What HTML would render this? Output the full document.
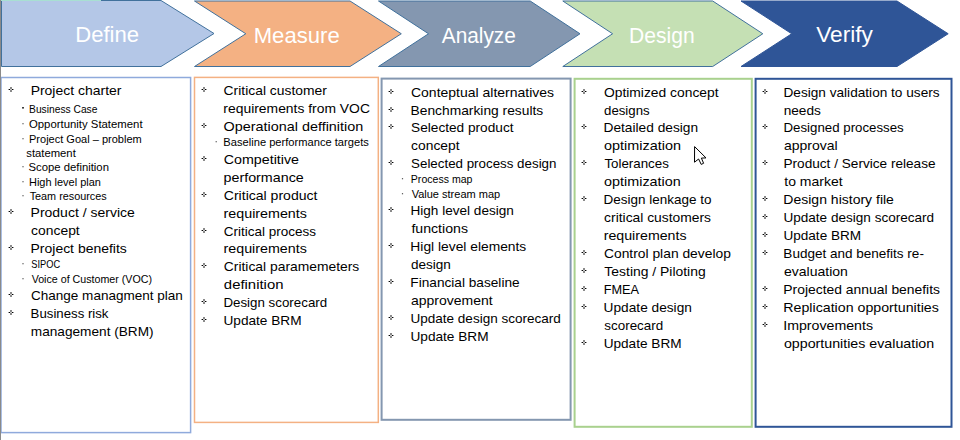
<!DOCTYPE html><html><head><meta charset="utf-8"><style>html,body{margin:0;padding:0;background:#fff;overflow:hidden}svg{display:block}text{font-family:"Liberation Sans",sans-serif}</style></head><body>
<svg width="960" height="440" viewBox="0 0 960 440">
<rect x="0" y="0" width="960" height="440" fill="#fff"/>
<path d="M1.5 0.5 L161 0.5 L214 33.5 L161 66.5 L1.5 66.5Z" fill="#B4C7E7" stroke="#41719C" stroke-width="1"/>
<path d="M194.5 1.0 L350 1.0 L401.3 33.75 L350 66.5 L194.5 66.5 L245.8 33.75Z" fill="#F4B183" stroke="#41719C" stroke-width="1"/>
<path d="M378.5 1.0 L530.2 1.0 L580 33.75 L530.2 66.5 L378.5 66.5 L428.5 33.75Z" fill="#8497B0" stroke="#41719C" stroke-width="1"/>
<path d="M562.8 1.0 L712.7 1.0 L762.8 33.75 L712.7 66.5 L562.8 66.5 L612.6 33.75Z" fill="#C5E0B4" stroke="#41719C" stroke-width="1"/>
<path d="M741 1.0 L897 1.0 L948.2 33.75 L897 66.5 L741 66.5 L791.7 33.75Z" fill="#2F5597" stroke="#2F5597" stroke-width="1"/>
<rect x="0" y="0" width="101" height="1" fill="#A8DFD2"/>
<text x="75.19" y="42" font-size="21.2" fill="#fff" textLength="63.90" lengthAdjust="spacingAndGlyphs">Define</text>
<text x="253.69" y="43" font-size="21.2" fill="#fff" textLength="86.00" lengthAdjust="spacingAndGlyphs">Measure</text>
<text x="441.76" y="43" font-size="21.2" fill="#fff" textLength="74.07" lengthAdjust="spacingAndGlyphs">Analyze</text>
<text x="629.07" y="43" font-size="21.2" fill="#fff" textLength="65.60" lengthAdjust="spacingAndGlyphs">Design</text>
<text x="816.20" y="42" font-size="21.2" fill="#fff" textLength="56.74" lengthAdjust="spacingAndGlyphs">Verify</text>
<rect x="1.0" y="77.5" width="189.6" height="355.1" fill="none" stroke="#8FAADC" stroke-width="1.5"/>
<rect x="194.5" y="77.4" width="183.8" height="345.0" fill="none" stroke="#F4B183" stroke-width="1.5"/>
<rect x="381.6" y="78.6" width="189.0" height="341.2" fill="none" stroke="#8497B0" stroke-width="2.0"/>
<rect x="574.6" y="78.8" width="177.2" height="348.0" fill="none" stroke="#A9D18E" stroke-width="2.0"/>
<rect x="755.6" y="78.8" width="195.9" height="348.0" fill="none" stroke="#2F5597" stroke-width="2.0"/>
<text x="30.65" y="95" font-size="12.2" fill="#000" textLength="90.78" lengthAdjust="spacingAndGlyphs">Project charter</text>
<rect x="8" y="89" width="1" height="1" fill="#9a9a9a"/><rect x="9" y="89" width="1" height="1" fill="#000"/><rect x="10" y="89" width="2" height="1" fill="#c8c8c8"/><rect x="12" y="89" width="1" height="1" fill="#000"/><rect x="13" y="89" width="1" height="1" fill="#9a9a9a"/><rect x="10" y="87" width="2" height="2" fill="#8a8a8a"/><rect x="10" y="90" width="2" height="2" fill="#8a8a8a"/>
<text x="29.06" y="113" font-size="10.4" fill="#000" textLength="68.40" lengthAdjust="spacingAndGlyphs">Business Case</text>
<rect x="22.20" y="107.00" width="1.6" height="1.6" fill="#111"/>
<text x="28.96" y="128" font-size="10.4" fill="#000" textLength="113.62" lengthAdjust="spacingAndGlyphs">Opportunity Statement</text>
<rect x="22.40" y="123.10" width="1.2" height="1.2" fill="#555"/>
<text x="29.00" y="143" font-size="10.4" fill="#000" textLength="112.73" lengthAdjust="spacingAndGlyphs">Project Goal – problem</text>
<rect x="22.40" y="138.10" width="1.2" height="1.2" fill="#555"/>
<text x="26.29" y="157" font-size="10.4" fill="#000" textLength="49.50" lengthAdjust="spacingAndGlyphs">statement</text>
<text x="28.49" y="171" font-size="10.4" fill="#000" textLength="80.45" lengthAdjust="spacingAndGlyphs">Scope definition</text>
<rect x="22.40" y="166.10" width="1.2" height="1.2" fill="#555"/>
<text x="29.00" y="186" font-size="10.4" fill="#000" textLength="71.91" lengthAdjust="spacingAndGlyphs">High level plan</text>
<rect x="22.40" y="181.10" width="1.2" height="1.2" fill="#555"/>
<text x="29.66" y="200" font-size="10.4" fill="#000" textLength="77.02" lengthAdjust="spacingAndGlyphs">Team resources</text>
<rect x="22.40" y="195.10" width="1.2" height="1.2" fill="#555"/>
<text x="30.55" y="217" font-size="12.2" fill="#000" textLength="104.27" lengthAdjust="spacingAndGlyphs">Product / service</text>
<rect x="8" y="211" width="1" height="1" fill="#9a9a9a"/><rect x="9" y="211" width="1" height="1" fill="#000"/><rect x="10" y="211" width="2" height="1" fill="#c8c8c8"/><rect x="12" y="211" width="1" height="1" fill="#000"/><rect x="13" y="211" width="1" height="1" fill="#9a9a9a"/><rect x="10" y="209" width="2" height="2" fill="#8a8a8a"/><rect x="10" y="212" width="2" height="2" fill="#8a8a8a"/>
<text x="31.11" y="235" font-size="12.2" fill="#000" textLength="48.59" lengthAdjust="spacingAndGlyphs">concept</text>
<text x="30.55" y="253" font-size="12.2" fill="#000" textLength="96.25" lengthAdjust="spacingAndGlyphs">Project benefits</text>
<rect x="8" y="247" width="1" height="1" fill="#9a9a9a"/><rect x="9" y="247" width="1" height="1" fill="#000"/><rect x="10" y="247" width="2" height="1" fill="#c8c8c8"/><rect x="12" y="247" width="1" height="1" fill="#000"/><rect x="13" y="247" width="1" height="1" fill="#9a9a9a"/><rect x="10" y="245" width="2" height="2" fill="#8a8a8a"/><rect x="10" y="248" width="2" height="2" fill="#8a8a8a"/>
<text x="31.28" y="268" font-size="10.4" fill="#000" textLength="28.87" lengthAdjust="spacingAndGlyphs">SIPOC</text>
<rect x="22.40" y="263.10" width="1.2" height="1.2" fill="#555"/>
<text x="31.65" y="283" font-size="10.4" fill="#000" textLength="120.41" lengthAdjust="spacingAndGlyphs">Voice of Customer (VOC)</text>
<rect x="22.40" y="278.10" width="1.2" height="1.2" fill="#555"/>
<text x="31.01" y="300" font-size="12.2" fill="#000" textLength="151.86" lengthAdjust="spacingAndGlyphs">Change managment plan</text>
<rect x="8" y="294" width="1" height="1" fill="#9a9a9a"/><rect x="9" y="294" width="1" height="1" fill="#000"/><rect x="10" y="294" width="2" height="1" fill="#c8c8c8"/><rect x="12" y="294" width="1" height="1" fill="#000"/><rect x="13" y="294" width="1" height="1" fill="#9a9a9a"/><rect x="10" y="292" width="2" height="2" fill="#8a8a8a"/><rect x="10" y="295" width="2" height="2" fill="#8a8a8a"/>
<text x="30.62" y="318" font-size="12.2" fill="#000" textLength="77.86" lengthAdjust="spacingAndGlyphs">Business risk</text>
<rect x="8" y="312" width="1" height="1" fill="#9a9a9a"/><rect x="9" y="312" width="1" height="1" fill="#000"/><rect x="10" y="312" width="2" height="1" fill="#c8c8c8"/><rect x="12" y="312" width="1" height="1" fill="#000"/><rect x="13" y="312" width="1" height="1" fill="#9a9a9a"/><rect x="10" y="310" width="2" height="2" fill="#8a8a8a"/><rect x="10" y="313" width="2" height="2" fill="#8a8a8a"/>
<text x="30.79" y="336" font-size="12.2" fill="#000" textLength="122.85" lengthAdjust="spacingAndGlyphs">management (BRM)</text>
<text x="223.60" y="95" font-size="12.2" fill="#000" textLength="103.23" lengthAdjust="spacingAndGlyphs">Critical customer</text>
<rect x="201" y="89" width="1" height="1" fill="#9a9a9a"/><rect x="202" y="89" width="1" height="1" fill="#000"/><rect x="203" y="89" width="2" height="1" fill="#c8c8c8"/><rect x="205" y="89" width="1" height="1" fill="#000"/><rect x="206" y="89" width="1" height="1" fill="#9a9a9a"/><rect x="203" y="87" width="2" height="2" fill="#8a8a8a"/><rect x="203" y="90" width="2" height="2" fill="#8a8a8a"/>
<text x="223.38" y="113" font-size="12.2" fill="#000" textLength="146.55" lengthAdjust="spacingAndGlyphs">requirements from VOC</text>
<text x="223.62" y="131" font-size="12.2" fill="#000" textLength="139.61" lengthAdjust="spacingAndGlyphs">Operational deffinition</text>
<rect x="201" y="125" width="1" height="1" fill="#9a9a9a"/><rect x="202" y="125" width="1" height="1" fill="#000"/><rect x="203" y="125" width="2" height="1" fill="#c8c8c8"/><rect x="205" y="125" width="1" height="1" fill="#000"/><rect x="206" y="125" width="1" height="1" fill="#9a9a9a"/><rect x="203" y="123" width="2" height="2" fill="#8a8a8a"/><rect x="203" y="126" width="2" height="2" fill="#8a8a8a"/>
<text x="223.39" y="146" font-size="10.4" fill="#000" textLength="145.42" lengthAdjust="spacingAndGlyphs">Baseline performance targets</text>
<rect x="215.60" y="141.10" width="1.2" height="1.2" fill="#555"/>
<text x="223.78" y="164" font-size="12.2" fill="#000" textLength="75.26" lengthAdjust="spacingAndGlyphs">Competitive</text>
<rect x="201" y="158" width="1" height="1" fill="#9a9a9a"/><rect x="202" y="158" width="1" height="1" fill="#000"/><rect x="203" y="158" width="2" height="1" fill="#c8c8c8"/><rect x="205" y="158" width="1" height="1" fill="#000"/><rect x="206" y="158" width="1" height="1" fill="#9a9a9a"/><rect x="203" y="156" width="2" height="2" fill="#8a8a8a"/><rect x="203" y="159" width="2" height="2" fill="#8a8a8a"/>
<text x="223.58" y="182" font-size="12.2" fill="#000" textLength="80.15" lengthAdjust="spacingAndGlyphs">performance</text>
<text x="223.79" y="200" font-size="12.2" fill="#000" textLength="93.72" lengthAdjust="spacingAndGlyphs">Critical product</text>
<rect x="201" y="194" width="1" height="1" fill="#9a9a9a"/><rect x="202" y="194" width="1" height="1" fill="#000"/><rect x="203" y="194" width="2" height="1" fill="#c8c8c8"/><rect x="205" y="194" width="1" height="1" fill="#000"/><rect x="206" y="194" width="1" height="1" fill="#9a9a9a"/><rect x="203" y="192" width="2" height="2" fill="#8a8a8a"/><rect x="203" y="195" width="2" height="2" fill="#8a8a8a"/>
<text x="223.55" y="218" font-size="12.2" fill="#000" textLength="83.36" lengthAdjust="spacingAndGlyphs">requirements</text>
<text x="223.81" y="236" font-size="12.2" fill="#000" textLength="92.27" lengthAdjust="spacingAndGlyphs">Critical process</text>
<rect x="201" y="230" width="1" height="1" fill="#9a9a9a"/><rect x="202" y="230" width="1" height="1" fill="#000"/><rect x="203" y="230" width="2" height="1" fill="#c8c8c8"/><rect x="205" y="230" width="1" height="1" fill="#000"/><rect x="206" y="230" width="1" height="1" fill="#9a9a9a"/><rect x="203" y="228" width="2" height="2" fill="#8a8a8a"/><rect x="203" y="231" width="2" height="2" fill="#8a8a8a"/>
<text x="223.55" y="253" font-size="12.2" fill="#000" textLength="83.26" lengthAdjust="spacingAndGlyphs">requirements</text>
<text x="223.80" y="271" font-size="12.2" fill="#000" textLength="135.50" lengthAdjust="spacingAndGlyphs">Critical paramemeters</text>
<rect x="201" y="265" width="1" height="1" fill="#9a9a9a"/><rect x="202" y="265" width="1" height="1" fill="#000"/><rect x="203" y="265" width="2" height="1" fill="#c8c8c8"/><rect x="205" y="265" width="1" height="1" fill="#000"/><rect x="206" y="265" width="1" height="1" fill="#9a9a9a"/><rect x="203" y="263" width="2" height="2" fill="#8a8a8a"/><rect x="203" y="266" width="2" height="2" fill="#8a8a8a"/>
<text x="223.87" y="289" font-size="12.2" fill="#000" textLength="59.59" lengthAdjust="spacingAndGlyphs">definition</text>
<text x="223.41" y="307" font-size="12.2" fill="#000" textLength="103.75" lengthAdjust="spacingAndGlyphs">Design scorecard</text>
<rect x="201" y="301" width="1" height="1" fill="#9a9a9a"/><rect x="202" y="301" width="1" height="1" fill="#000"/><rect x="203" y="301" width="2" height="1" fill="#c8c8c8"/><rect x="205" y="301" width="1" height="1" fill="#000"/><rect x="206" y="301" width="1" height="1" fill="#9a9a9a"/><rect x="203" y="299" width="2" height="2" fill="#8a8a8a"/><rect x="203" y="302" width="2" height="2" fill="#8a8a8a"/>
<text x="223.45" y="325" font-size="12.2" fill="#000" textLength="78.17" lengthAdjust="spacingAndGlyphs">Update BRM</text>
<rect x="201" y="319" width="1" height="1" fill="#9a9a9a"/><rect x="202" y="319" width="1" height="1" fill="#000"/><rect x="203" y="319" width="2" height="1" fill="#c8c8c8"/><rect x="205" y="319" width="1" height="1" fill="#000"/><rect x="206" y="319" width="1" height="1" fill="#9a9a9a"/><rect x="203" y="317" width="2" height="2" fill="#8a8a8a"/><rect x="203" y="320" width="2" height="2" fill="#8a8a8a"/>
<text x="410.99" y="97" font-size="12.2" fill="#000" textLength="143.02" lengthAdjust="spacingAndGlyphs">Conteptual alternatives</text>
<rect x="388" y="91" width="1" height="1" fill="#9a9a9a"/><rect x="389" y="91" width="1" height="1" fill="#000"/><rect x="390" y="91" width="2" height="1" fill="#c8c8c8"/><rect x="392" y="91" width="1" height="1" fill="#000"/><rect x="393" y="91" width="1" height="1" fill="#9a9a9a"/><rect x="390" y="89" width="2" height="2" fill="#8a8a8a"/><rect x="390" y="92" width="2" height="2" fill="#8a8a8a"/>
<text x="410.57" y="115" font-size="12.2" fill="#000" textLength="132.63" lengthAdjust="spacingAndGlyphs">Benchmarking results</text>
<rect x="388" y="109" width="1" height="1" fill="#9a9a9a"/><rect x="389" y="109" width="1" height="1" fill="#000"/><rect x="390" y="109" width="2" height="1" fill="#c8c8c8"/><rect x="392" y="109" width="1" height="1" fill="#000"/><rect x="393" y="109" width="1" height="1" fill="#9a9a9a"/><rect x="390" y="107" width="2" height="2" fill="#8a8a8a"/><rect x="390" y="110" width="2" height="2" fill="#8a8a8a"/>
<text x="411.08" y="132" font-size="12.2" fill="#000" textLength="102.42" lengthAdjust="spacingAndGlyphs">Selected product</text>
<rect x="388" y="126" width="1" height="1" fill="#9a9a9a"/><rect x="389" y="126" width="1" height="1" fill="#000"/><rect x="390" y="126" width="2" height="1" fill="#c8c8c8"/><rect x="392" y="126" width="1" height="1" fill="#000"/><rect x="393" y="126" width="1" height="1" fill="#9a9a9a"/><rect x="390" y="124" width="2" height="2" fill="#8a8a8a"/><rect x="390" y="127" width="2" height="2" fill="#8a8a8a"/>
<text x="411.11" y="150" font-size="12.2" fill="#000" textLength="48.39" lengthAdjust="spacingAndGlyphs">concept</text>
<text x="411.09" y="168" font-size="12.2" fill="#000" textLength="145.37" lengthAdjust="spacingAndGlyphs">Selected process design</text>
<rect x="388" y="162" width="1" height="1" fill="#9a9a9a"/><rect x="389" y="162" width="1" height="1" fill="#000"/><rect x="390" y="162" width="2" height="1" fill="#c8c8c8"/><rect x="392" y="162" width="1" height="1" fill="#000"/><rect x="393" y="162" width="1" height="1" fill="#9a9a9a"/><rect x="390" y="160" width="2" height="2" fill="#8a8a8a"/><rect x="390" y="163" width="2" height="2" fill="#8a8a8a"/>
<text x="410.83" y="183" font-size="10.4" fill="#000" textLength="61.61" lengthAdjust="spacingAndGlyphs">Process map</text>
<rect x="401.90" y="178.10" width="1.2" height="1.2" fill="#555"/>
<text x="411.65" y="198" font-size="10.4" fill="#000" textLength="88.51" lengthAdjust="spacingAndGlyphs">Value stream map</text>
<rect x="401.90" y="193.10" width="1.2" height="1.2" fill="#555"/>
<text x="410.49" y="215" font-size="12.2" fill="#000" textLength="103.40" lengthAdjust="spacingAndGlyphs">High level design</text>
<rect x="388" y="209" width="1" height="1" fill="#9a9a9a"/><rect x="389" y="209" width="1" height="1" fill="#000"/><rect x="390" y="209" width="2" height="1" fill="#c8c8c8"/><rect x="392" y="209" width="1" height="1" fill="#000"/><rect x="393" y="209" width="1" height="1" fill="#9a9a9a"/><rect x="390" y="207" width="2" height="2" fill="#8a8a8a"/><rect x="390" y="210" width="2" height="2" fill="#8a8a8a"/>
<text x="411.40" y="233" font-size="12.2" fill="#000" textLength="56.61" lengthAdjust="spacingAndGlyphs">functions</text>
<text x="410.37" y="251" font-size="12.2" fill="#000" textLength="115.93" lengthAdjust="spacingAndGlyphs">Higl level elements</text>
<rect x="388" y="245" width="1" height="1" fill="#9a9a9a"/><rect x="389" y="245" width="1" height="1" fill="#000"/><rect x="390" y="245" width="2" height="1" fill="#c8c8c8"/><rect x="392" y="245" width="1" height="1" fill="#000"/><rect x="393" y="245" width="1" height="1" fill="#9a9a9a"/><rect x="390" y="243" width="2" height="2" fill="#8a8a8a"/><rect x="390" y="246" width="2" height="2" fill="#8a8a8a"/>
<text x="410.93" y="269" font-size="12.2" fill="#000" textLength="39.95" lengthAdjust="spacingAndGlyphs">design</text>
<text x="410.38" y="287" font-size="12.2" fill="#000" textLength="109.23" lengthAdjust="spacingAndGlyphs">Financial baseline</text>
<rect x="388" y="281" width="1" height="1" fill="#9a9a9a"/><rect x="389" y="281" width="1" height="1" fill="#000"/><rect x="390" y="281" width="2" height="1" fill="#c8c8c8"/><rect x="392" y="281" width="1" height="1" fill="#000"/><rect x="393" y="281" width="1" height="1" fill="#9a9a9a"/><rect x="390" y="279" width="2" height="2" fill="#8a8a8a"/><rect x="390" y="282" width="2" height="2" fill="#8a8a8a"/>
<text x="410.91" y="305" font-size="12.2" fill="#000" textLength="81.70" lengthAdjust="spacingAndGlyphs">approvement</text>
<text x="410.46" y="323" font-size="12.2" fill="#000" textLength="150.42" lengthAdjust="spacingAndGlyphs">Update design scorecard</text>
<rect x="388" y="317" width="1" height="1" fill="#9a9a9a"/><rect x="389" y="317" width="1" height="1" fill="#000"/><rect x="390" y="317" width="2" height="1" fill="#c8c8c8"/><rect x="392" y="317" width="1" height="1" fill="#000"/><rect x="393" y="317" width="1" height="1" fill="#9a9a9a"/><rect x="390" y="315" width="2" height="2" fill="#8a8a8a"/><rect x="390" y="318" width="2" height="2" fill="#8a8a8a"/>
<text x="410.45" y="341" font-size="12.2" fill="#000" textLength="78.17" lengthAdjust="spacingAndGlyphs">Update BRM</text>
<rect x="388" y="335" width="1" height="1" fill="#9a9a9a"/><rect x="389" y="335" width="1" height="1" fill="#000"/><rect x="390" y="335" width="2" height="1" fill="#c8c8c8"/><rect x="392" y="335" width="1" height="1" fill="#000"/><rect x="393" y="335" width="1" height="1" fill="#9a9a9a"/><rect x="390" y="333" width="2" height="2" fill="#8a8a8a"/><rect x="390" y="336" width="2" height="2" fill="#8a8a8a"/>
<text x="603.94" y="97" font-size="12.2" fill="#000" textLength="114.66" lengthAdjust="spacingAndGlyphs">Optimized concept</text>
<rect x="581" y="91" width="1" height="1" fill="#9a9a9a"/><rect x="582" y="91" width="1" height="1" fill="#000"/><rect x="583" y="91" width="2" height="1" fill="#c8c8c8"/><rect x="585" y="91" width="1" height="1" fill="#000"/><rect x="586" y="91" width="1" height="1" fill="#9a9a9a"/><rect x="583" y="89" width="2" height="2" fill="#8a8a8a"/><rect x="583" y="92" width="2" height="2" fill="#8a8a8a"/>
<text x="604.04" y="115" font-size="12.2" fill="#000" textLength="45.63" lengthAdjust="spacingAndGlyphs">designs</text>
<text x="603.47" y="132" font-size="12.2" fill="#000" textLength="94.62" lengthAdjust="spacingAndGlyphs">Detailed design</text>
<rect x="581" y="126" width="1" height="1" fill="#9a9a9a"/><rect x="582" y="126" width="1" height="1" fill="#000"/><rect x="583" y="126" width="2" height="1" fill="#c8c8c8"/><rect x="585" y="126" width="1" height="1" fill="#000"/><rect x="586" y="126" width="1" height="1" fill="#9a9a9a"/><rect x="583" y="124" width="2" height="2" fill="#8a8a8a"/><rect x="583" y="127" width="2" height="2" fill="#8a8a8a"/>
<text x="604.10" y="150" font-size="12.2" fill="#000" textLength="76.84" lengthAdjust="spacingAndGlyphs">optimization</text>
<text x="604.41" y="168" font-size="12.2" fill="#000" textLength="64.46" lengthAdjust="spacingAndGlyphs">Tolerances</text>
<rect x="581" y="162" width="1" height="1" fill="#9a9a9a"/><rect x="582" y="162" width="1" height="1" fill="#000"/><rect x="583" y="162" width="2" height="1" fill="#c8c8c8"/><rect x="585" y="162" width="1" height="1" fill="#000"/><rect x="586" y="162" width="1" height="1" fill="#9a9a9a"/><rect x="583" y="160" width="2" height="2" fill="#8a8a8a"/><rect x="583" y="163" width="2" height="2" fill="#8a8a8a"/>
<text x="604.10" y="186" font-size="12.2" fill="#000" textLength="76.64" lengthAdjust="spacingAndGlyphs">optimization</text>
<text x="603.59" y="204" font-size="12.2" fill="#000" textLength="107.97" lengthAdjust="spacingAndGlyphs">Design lenkage to</text>
<rect x="581" y="198" width="1" height="1" fill="#9a9a9a"/><rect x="582" y="198" width="1" height="1" fill="#000"/><rect x="583" y="198" width="2" height="1" fill="#c8c8c8"/><rect x="585" y="198" width="1" height="1" fill="#000"/><rect x="586" y="198" width="1" height="1" fill="#9a9a9a"/><rect x="583" y="196" width="2" height="2" fill="#8a8a8a"/><rect x="583" y="199" width="2" height="2" fill="#8a8a8a"/>
<text x="604.11" y="222" font-size="12.2" fill="#000" textLength="106.89" lengthAdjust="spacingAndGlyphs">critical customers</text>
<text x="603.76" y="240" font-size="12.2" fill="#000" textLength="82.75" lengthAdjust="spacingAndGlyphs">requirements</text>
<text x="604.00" y="258" font-size="12.2" fill="#000" textLength="126.88" lengthAdjust="spacingAndGlyphs">Control plan develop</text>
<rect x="581" y="252" width="1" height="1" fill="#9a9a9a"/><rect x="582" y="252" width="1" height="1" fill="#000"/><rect x="583" y="252" width="2" height="1" fill="#c8c8c8"/><rect x="585" y="252" width="1" height="1" fill="#000"/><rect x="586" y="252" width="1" height="1" fill="#9a9a9a"/><rect x="583" y="250" width="2" height="2" fill="#8a8a8a"/><rect x="583" y="253" width="2" height="2" fill="#8a8a8a"/>
<text x="604.39" y="276" font-size="12.2" fill="#000" textLength="101.29" lengthAdjust="spacingAndGlyphs">Testing / Piloting</text>
<rect x="581" y="270" width="1" height="1" fill="#9a9a9a"/><rect x="582" y="270" width="1" height="1" fill="#000"/><rect x="583" y="270" width="2" height="1" fill="#c8c8c8"/><rect x="585" y="270" width="1" height="1" fill="#000"/><rect x="586" y="270" width="1" height="1" fill="#9a9a9a"/><rect x="583" y="268" width="2" height="2" fill="#8a8a8a"/><rect x="583" y="271" width="2" height="2" fill="#8a8a8a"/>
<text x="603.66" y="294" font-size="12.2" fill="#000" textLength="35.37" lengthAdjust="spacingAndGlyphs">FMEA</text>
<rect x="581" y="288" width="1" height="1" fill="#9a9a9a"/><rect x="582" y="288" width="1" height="1" fill="#000"/><rect x="583" y="288" width="2" height="1" fill="#c8c8c8"/><rect x="585" y="288" width="1" height="1" fill="#000"/><rect x="586" y="288" width="1" height="1" fill="#9a9a9a"/><rect x="583" y="286" width="2" height="2" fill="#8a8a8a"/><rect x="583" y="289" width="2" height="2" fill="#8a8a8a"/>
<text x="603.64" y="312" font-size="12.2" fill="#000" textLength="88.24" lengthAdjust="spacingAndGlyphs">Update design</text>
<rect x="581" y="306" width="1" height="1" fill="#9a9a9a"/><rect x="582" y="306" width="1" height="1" fill="#000"/><rect x="583" y="306" width="2" height="1" fill="#c8c8c8"/><rect x="585" y="306" width="1" height="1" fill="#000"/><rect x="586" y="306" width="1" height="1" fill="#9a9a9a"/><rect x="583" y="304" width="2" height="2" fill="#8a8a8a"/><rect x="583" y="307" width="2" height="2" fill="#8a8a8a"/>
<text x="604.33" y="330" font-size="12.2" fill="#000" textLength="58.84" lengthAdjust="spacingAndGlyphs">scorecard</text>
<text x="603.65" y="348" font-size="12.2" fill="#000" textLength="77.97" lengthAdjust="spacingAndGlyphs">Update BRM</text>
<rect x="581" y="342" width="1" height="1" fill="#9a9a9a"/><rect x="582" y="342" width="1" height="1" fill="#000"/><rect x="583" y="342" width="2" height="1" fill="#c8c8c8"/><rect x="585" y="342" width="1" height="1" fill="#000"/><rect x="586" y="342" width="1" height="1" fill="#9a9a9a"/><rect x="583" y="340" width="2" height="2" fill="#8a8a8a"/><rect x="583" y="343" width="2" height="2" fill="#8a8a8a"/>
<text x="783.48" y="97" font-size="12.2" fill="#000" textLength="156.11" lengthAdjust="spacingAndGlyphs">Design validation to users</text>
<rect x="762" y="91" width="1" height="1" fill="#9a9a9a"/><rect x="763" y="91" width="1" height="1" fill="#000"/><rect x="764" y="91" width="2" height="1" fill="#c8c8c8"/><rect x="766" y="91" width="1" height="1" fill="#000"/><rect x="767" y="91" width="1" height="1" fill="#9a9a9a"/><rect x="764" y="89" width="2" height="2" fill="#8a8a8a"/><rect x="764" y="92" width="2" height="2" fill="#8a8a8a"/>
<text x="783.69" y="115" font-size="12.2" fill="#000" textLength="37.20" lengthAdjust="spacingAndGlyphs">needs</text>
<text x="783.51" y="132" font-size="12.2" fill="#000" textLength="120.27" lengthAdjust="spacingAndGlyphs">Designed processes</text>
<rect x="762" y="126" width="1" height="1" fill="#9a9a9a"/><rect x="763" y="126" width="1" height="1" fill="#000"/><rect x="764" y="126" width="2" height="1" fill="#c8c8c8"/><rect x="766" y="126" width="1" height="1" fill="#000"/><rect x="767" y="126" width="1" height="1" fill="#9a9a9a"/><rect x="764" y="124" width="2" height="2" fill="#8a8a8a"/><rect x="764" y="127" width="2" height="2" fill="#8a8a8a"/>
<text x="784.00" y="150" font-size="12.2" fill="#000" textLength="53.73" lengthAdjust="spacingAndGlyphs">approval</text>
<text x="783.48" y="168" font-size="12.2" fill="#000" textLength="152.12" lengthAdjust="spacingAndGlyphs">Product / Service release</text>
<rect x="762" y="162" width="1" height="1" fill="#9a9a9a"/><rect x="763" y="162" width="1" height="1" fill="#000"/><rect x="764" y="162" width="2" height="1" fill="#c8c8c8"/><rect x="766" y="162" width="1" height="1" fill="#000"/><rect x="767" y="162" width="1" height="1" fill="#9a9a9a"/><rect x="764" y="160" width="2" height="2" fill="#8a8a8a"/><rect x="764" y="163" width="2" height="2" fill="#8a8a8a"/>
<text x="784.29" y="186" font-size="12.2" fill="#000" textLength="58.31" lengthAdjust="spacingAndGlyphs">to market</text>
<text x="783.35" y="204" font-size="12.2" fill="#000" textLength="110.57" lengthAdjust="spacingAndGlyphs">Design history file</text>
<rect x="762" y="198" width="1" height="1" fill="#9a9a9a"/><rect x="763" y="198" width="1" height="1" fill="#000"/><rect x="764" y="198" width="2" height="1" fill="#c8c8c8"/><rect x="766" y="198" width="1" height="1" fill="#000"/><rect x="767" y="198" width="1" height="1" fill="#9a9a9a"/><rect x="764" y="196" width="2" height="2" fill="#8a8a8a"/><rect x="764" y="199" width="2" height="2" fill="#8a8a8a"/>
<text x="783.45" y="222" font-size="12.2" fill="#000" textLength="150.72" lengthAdjust="spacingAndGlyphs">Update design scorecard</text>
<rect x="762" y="216" width="1" height="1" fill="#9a9a9a"/><rect x="763" y="216" width="1" height="1" fill="#000"/><rect x="764" y="216" width="2" height="1" fill="#c8c8c8"/><rect x="766" y="216" width="1" height="1" fill="#000"/><rect x="767" y="216" width="1" height="1" fill="#9a9a9a"/><rect x="764" y="214" width="2" height="2" fill="#8a8a8a"/><rect x="764" y="217" width="2" height="2" fill="#8a8a8a"/>
<text x="783.45" y="240" font-size="12.2" fill="#000" textLength="77.66" lengthAdjust="spacingAndGlyphs">Update BRM</text>
<rect x="762" y="234" width="1" height="1" fill="#9a9a9a"/><rect x="763" y="234" width="1" height="1" fill="#000"/><rect x="764" y="234" width="2" height="1" fill="#c8c8c8"/><rect x="766" y="234" width="1" height="1" fill="#000"/><rect x="767" y="234" width="1" height="1" fill="#9a9a9a"/><rect x="764" y="232" width="2" height="2" fill="#8a8a8a"/><rect x="764" y="235" width="2" height="2" fill="#8a8a8a"/>
<text x="783.39" y="258" font-size="12.2" fill="#000" textLength="140.51" lengthAdjust="spacingAndGlyphs">Budget and benefits re-</text>
<rect x="762" y="252" width="1" height="1" fill="#9a9a9a"/><rect x="763" y="252" width="1" height="1" fill="#000"/><rect x="764" y="252" width="2" height="1" fill="#c8c8c8"/><rect x="766" y="252" width="1" height="1" fill="#000"/><rect x="767" y="252" width="1" height="1" fill="#9a9a9a"/><rect x="764" y="250" width="2" height="2" fill="#8a8a8a"/><rect x="764" y="253" width="2" height="2" fill="#8a8a8a"/>
<text x="783.90" y="276" font-size="12.2" fill="#000" textLength="64.01" lengthAdjust="spacingAndGlyphs">evaluation</text>
<text x="783.36" y="294" font-size="12.2" fill="#000" textLength="156.64" lengthAdjust="spacingAndGlyphs">Projected annual benefits</text>
<rect x="762" y="288" width="1" height="1" fill="#9a9a9a"/><rect x="763" y="288" width="1" height="1" fill="#000"/><rect x="764" y="288" width="2" height="1" fill="#c8c8c8"/><rect x="766" y="288" width="1" height="1" fill="#000"/><rect x="767" y="288" width="1" height="1" fill="#9a9a9a"/><rect x="764" y="286" width="2" height="2" fill="#8a8a8a"/><rect x="764" y="289" width="2" height="2" fill="#8a8a8a"/>
<text x="783.34" y="312" font-size="12.2" fill="#000" textLength="155.48" lengthAdjust="spacingAndGlyphs">Replication opportunities</text>
<rect x="762" y="306" width="1" height="1" fill="#9a9a9a"/><rect x="763" y="306" width="1" height="1" fill="#000"/><rect x="764" y="306" width="2" height="1" fill="#c8c8c8"/><rect x="766" y="306" width="1" height="1" fill="#000"/><rect x="767" y="306" width="1" height="1" fill="#9a9a9a"/><rect x="764" y="304" width="2" height="2" fill="#8a8a8a"/><rect x="764" y="307" width="2" height="2" fill="#8a8a8a"/>
<text x="783.19" y="330" font-size="12.2" fill="#000" textLength="89.82" lengthAdjust="spacingAndGlyphs">Improvements</text>
<rect x="762" y="324" width="1" height="1" fill="#9a9a9a"/><rect x="763" y="324" width="1" height="1" fill="#000"/><rect x="764" y="324" width="2" height="1" fill="#c8c8c8"/><rect x="766" y="324" width="1" height="1" fill="#000"/><rect x="767" y="324" width="1" height="1" fill="#9a9a9a"/><rect x="764" y="322" width="2" height="2" fill="#8a8a8a"/><rect x="764" y="325" width="2" height="2" fill="#8a8a8a"/>
<text x="783.90" y="348" font-size="12.2" fill="#000" textLength="150.32" lengthAdjust="spacingAndGlyphs">opportunities evaluation</text>
<rect x="0" y="0" width="1" height="440" fill="#8a8a8a"/>
<path d="M694.6 146.6 L694.5 162.2 L698.6 159.0 L701.2 164.4 L703.6 163.3 L701.4 158.1 L706.0 157.9Z" fill="#fff" stroke="#000" stroke-width="1" stroke-linejoin="round"/>
</svg></body></html>
